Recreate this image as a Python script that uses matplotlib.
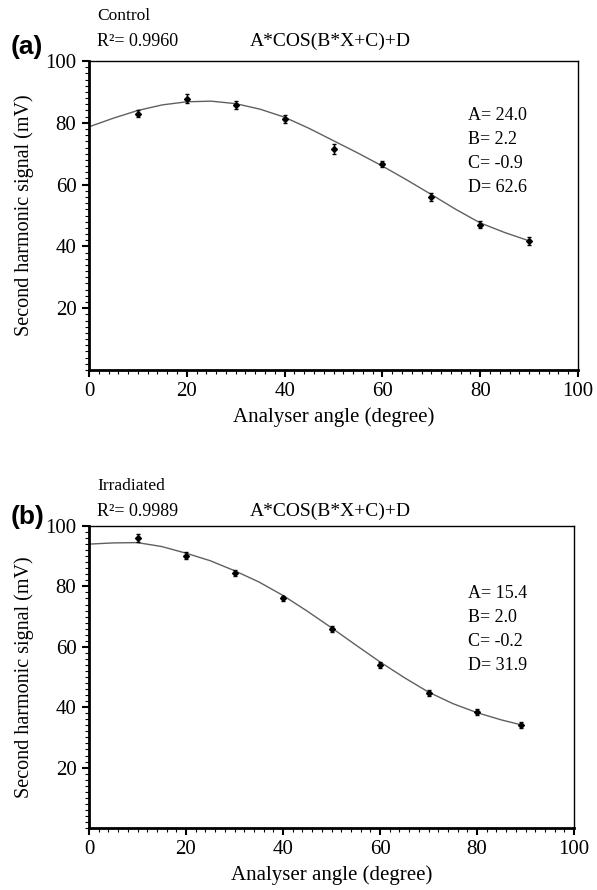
import matplotlib
matplotlib.use("Agg")
import matplotlib.pyplot as plt
from matplotlib.ticker import MultipleLocator

# ---------------- data ----------------
angle_ctrl = [10, 20, 30, 40, 50, 60, 70, 80, 90]
signal_ctrl = [83.0, 87.8, 85.7, 81.2, 71.5, 66.7, 56.0, 47.0, 41.8]
err_ctrl = [1.2, 1.5, 1.3, 1.2, 1.5, 1.0, 1.2, 1.2, 1.3]

fit_x_ctrl = [0, 5, 10, 15, 20, 25, 30, 35, 40, 45, 50, 55, 60, 65, 70, 75, 80, 85, 90]
fit_y_ctrl = [78.7, 81.5, 84.0, 85.8, 86.8, 87.0, 86.2, 84.4, 81.8, 78.2, 74.2,
              70.2, 66.0, 61.5, 56.8, 52.0, 47.6, 44.5, 41.8]

angle_irr = [10, 20, 30, 40, 50, 60, 70, 80, 89]
signal_irr = [96.0, 90.2, 84.3, 76.0, 65.8, 54.1, 44.7, 38.5, 34.0]
err_irr = [1.3, 1.2, 1.0, 0.8, 1.0, 1.0, 1.0, 1.0, 1.0]

fit_x_irr = [0, 5, 10, 15, 20, 25, 30, 35, 40, 45, 50, 55, 60, 65, 70, 75, 80, 85, 89]
fit_y_irr = [94.0, 94.4, 94.5, 93.2, 91.0, 88.5, 85.2, 81.5, 77.0, 71.8, 66.3,
             60.6, 55.0, 49.8, 45.0, 41.2, 38.2, 35.8, 34.2]

y_ticks = [20, 40, 60, 80, 100]
x_ticks = [0, 20, 40, 60, 80, 100]

panels = [
    dict(tag="(a)", group="Control", r2="0.9960", formula="A*COS(B*X+C)+D",
         params=["A= 24.0", "B= 2.2", "C= -0.9", "D= 62.6"],
         x=angle_ctrl, y=signal_ctrl, e=err_ctrl, fx=fit_x_ctrl, fy=fit_y_ctrl),
    dict(tag="(b)", group="Irradiated", r2="0.9989", formula="A*COS(B*X+C)+D",
         params=["A= 15.4", "B= 2.0", "C= -0.2", "D= 31.9"],
         x=angle_irr, y=signal_irr, e=err_irr, fx=fit_x_irr, fy=fit_y_irr),
]

# ---------------- figure ----------------
W, H = 597, 890
fig = plt.figure(figsize=(W / 100, H / 100), dpi=100)
serif = "Liberation Serif"

# axes boxes in pixels: left, top, right, bottom
boxes = [(89, 61, 578, 370), (89, 526, 574, 828)]
header_y = [(16, 41, 47), (486, 511, 517)]   # group, R2/formula, tag
param_y0 = [115, 593]

for p, (l, t, r, b), (gy, ry, ty), py0 in zip(panels, boxes, header_y, param_y0):
    ax = fig.add_axes([l / W, 1 - b / H, (r - l) / W, (b - t) / H])
    ax.plot(p["fx"], p["fy"], color="#606060", lw=1.0, zorder=2)
    ax.errorbar(p["x"], p["y"], yerr=p["e"], fmt="D", color="black",
                ms=3, elinewidth=1.0, capsize=1.5, capthick=1.0, zorder=3)
    ax.set_xlim(0, 100)
    ax.set_ylim(0, 100)
    ax.set_xticks(x_ticks)
    ax.set_yticks(y_ticks)
    ax.xaxis.set_minor_locator(MultipleLocator(2))
    ax.yaxis.set_minor_locator(MultipleLocator(2))
    ax.tick_params(which="major", direction="out", length=5, width=1.5,
                   labelsize=15, pad=4)
    ax.tick_params(which="minor", direction="out", length=3, width=0.8)
    for lab in ax.get_xticklabels() + ax.get_yticklabels():
        lab.set_fontfamily(serif)
    ax.spines["left"].set_linewidth(2.0)
    ax.spines["bottom"].set_linewidth(2.0)
    ax.spines["top"].set_linewidth(1.0)
    ax.spines["right"].set_linewidth(1.0)
    ax.set_xlabel("Analyser angle (degree)", fontfamily=serif, fontsize=15,
                  labelpad=4)
    ax.set_ylabel("Second harmonic signal (mV)", fontfamily=serif, fontsize=14.5,
                  labelpad=8)

    # parameter block inside axes
    for i, s in enumerate(p["params"]):
        fig.text(468 / W, 1 - (py0 + i * 24.3) / H, s, fontfamily=serif,
                 fontsize=13, va="center", ha="left")

    # header texts
    fig.text(11 / W, 1 - ty / H, p["tag"], fontfamily="Liberation Sans",
             fontweight="bold", fontsize=19, va="center", ha="left")
    fig.text(97 / W, 1 - gy / H, p["group"], fontfamily=serif,
             fontsize=12.5, va="center", ha="left")
    fig.text(97 / W, 1 - ry / H, "R\u00b2= " + p["r2"], fontfamily=serif,
             fontsize=13, va="center", ha="left")
    fig.text(250 / W, 1 - ry / H, p["formula"], fontfamily=serif,
             fontsize=14, va="center", ha="left")

fig.savefig("out.png", dpi=100)
